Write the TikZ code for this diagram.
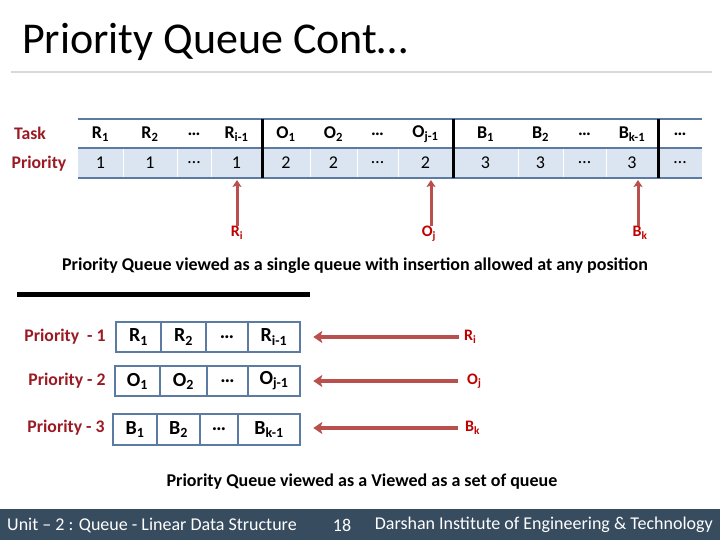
\documentclass[tikz,border=0pt]{standalone}
\usepackage{fontspec}
\setmainfont{Carlito}
\usetikzlibrary{arrows.meta}
\definecolor{tblue}{HTML}{5B7BA3}
\definecolor{rowfill}{HTML}{DBE5F1}
\definecolor{dred}{HTML}{9B1B24}
\definecolor{bred}{HTML}{C00000}
\definecolor{arr}{HTML}{B9504D}
\definecolor{foot}{HTML}{384C60}
\newcommand\setfs[1]{\fontsize{#1}{#1}\selectfont}
\begin{document}
\begin{tikzpicture}[x=1pt,y=-1pt,
  tcell/.style={inner sep=0, font=\setfs{18}\bfseries},
  pcell/.style={inner sep=0, font=\setfs{18}},
  side/.style={inner sep=0, font=\setfs{17.7}\bfseries, text=dred},
  tag/.style={inner sep=0, font=\setfs{16}\bfseries, text=bred},
  qcell/.style={draw=tblue, line width=2.6pt, fill=white, inner sep=0, minimum height=30pt, font=\setfs{20}\bfseries},
  uparr/.style={draw=arr, line width=3pt, -{Stealth[length=7pt,width=9pt,inset=1.5pt]}},
  larr/.style={draw=arr, line width=3.6pt, -{Stealth[length=9pt,width=12pt,inset=2pt]}},
  caption/.style={inner sep=0, font=\setfs{18}\bfseries},
  foottext/.style={inner sep=0, text=white, font=\setfs{18}}]
\useasboundingbox (0,0) rectangle (720,540);
\fill[white] (0,0) rectangle (720,540);

% title
\node[anchor=west, inner sep=0, font=\setfs{44}] (title) at (22,42) {Priority Queue Cont…};
\draw[black!15, line width=1.2pt] (11,72) -- (712,72);

% single queue table
\fill[rowfill] (78,148) rectangle (702,178);
\foreach \x in {123,177,211,310,357,398,518,563,606}
  \draw[white, line width=1pt] (\x,148) -- (\x,178);
\foreach \l/\r/\tp/\bt [count=\i] in {
  78/123/R\textsubscript{1}/1,
  123/177/R\textsubscript{2}/1,
  177/211/…/…,
  211/262/R\textsubscript{i-1}/1,
  262/310/O\textsubscript{1}/2,
  310/357/O\textsubscript{2}/2,
  357/398/…/…,
  398/453/O\textsubscript{j-1}/2,
  453/518/B\textsubscript{1}/3,
  518/563/B\textsubscript{2}/3,
  563/606/…/…,
  606/658/B\textsubscript{k-1}/3,
  658/702/…/…}
{
  \node[tcell] (t\i) at ({(\l+\r)/2},134) {\tp};
  \node[pcell] (p\i) at ({(\l+\r)/2},163) {\bt};
}
\foreach \y in {119,148,178}
  \draw[tblue, line width=2.8pt] (78,\y) -- (702,\y);
\foreach \x in {262,453,658}
  \draw[black, line width=3pt] (\x,119) -- (\x,178);

\node[side] (task) at (30,133) {Task};
\node[side] (prio) at (39,164) {Priority};

% insertion arrows (top)
\coordinate (a1) at (237,180);
\coordinate (a2) at (431,180);
\coordinate (a3) at (638,180);
\node[tag, anchor=north] (ri) at (237,226) {R\textsubscript{i}};
\node[tag, anchor=north] (oj) at (429,226) {O\textsubscript{j}};
\node[tag, anchor=north] (bk) at (640,226) {B\textsubscript{k}};
\draw[uparr] (ri.north -| a1) -- (a1);
\draw[uparr] (oj.north -| a2) -- (a2);
\draw[uparr] (bk.north -| a3) -- (a3);

\node[caption] (cap1) at (355,266) {Priority Queue viewed as a single queue with insertion allowed at any position};
\draw[black, line width=5pt] (17,294) -- (310,294);

% set of queues
\foreach \l/\r/\t [count=\i] in {116/161/R\textsubscript{1}, 161/206/R\textsubscript{2}, 206/248/…, 248/300/R\textsubscript{i-1}}
  \node[qcell, minimum width={\r-\l}] (r\i) at ({(\l+\r)/2},337) {\t};
\foreach \l/\r/\t [count=\i] in {115/160/O\textsubscript{1}, 160/207/O\textsubscript{2}, 207/248/…, 248/300/O\textsubscript{j-1}}
  \node[qcell, minimum width={\r-\l}] (o\i) at ({(\l+\r)/2},381) {\t};
\foreach \l/\r/\t [count=\i] in {113/157/B\textsubscript{1}, 157/200/B\textsubscript{2}, 200/238/…, 238/300/B\textsubscript{k-1}}
  \node[qcell, minimum width={\r-\l}, minimum height=31pt] (b\i) at ({(\l+\r)/2},429.5) {\t};

\node[side] (pr1) at (65,337) {Priority \ - 1};
\node[side] (pr2) at (67,381) {Priority - 2};
\node[side] (pr3) at (66,428) {Priority - 3};

\node[tag, anchor=west] (lri) at (464,337) {R\textsubscript{i}};
\node[tag, anchor=west] (loj) at (467,381) {O\textsubscript{j}};
\node[tag, anchor=west] (lbk) at (465,428) {B\textsubscript{k}};
\draw[larr] ([xshift=-5pt]lri.west) -- ([xshift=12pt]r4.east |- lri.west);
\draw[larr] ([xshift=-9pt]loj.west) -- ([xshift=12pt]o4.east |- loj.west);
\draw[larr] ([xshift=-7pt]lbk.west) -- ([xshift=12pt]b4.east |- lbk.west);

\node[caption] (cap2) at (362,482) {Priority Queue viewed as a Viewed as a set of queue};

% footer
\fill[foot] (0,509) rectangle (720,540);
\node[foottext, anchor=west] (f1) at (7,525) {Unit – 2 : Queue - Linear Data Structure};
\node[foottext] (f2) at (342,525) {18};
\node[foottext, anchor=east] (f3) at (713,525) {Darshan Institute of Engineering \& Technology};
\end{tikzpicture}
\end{document}
